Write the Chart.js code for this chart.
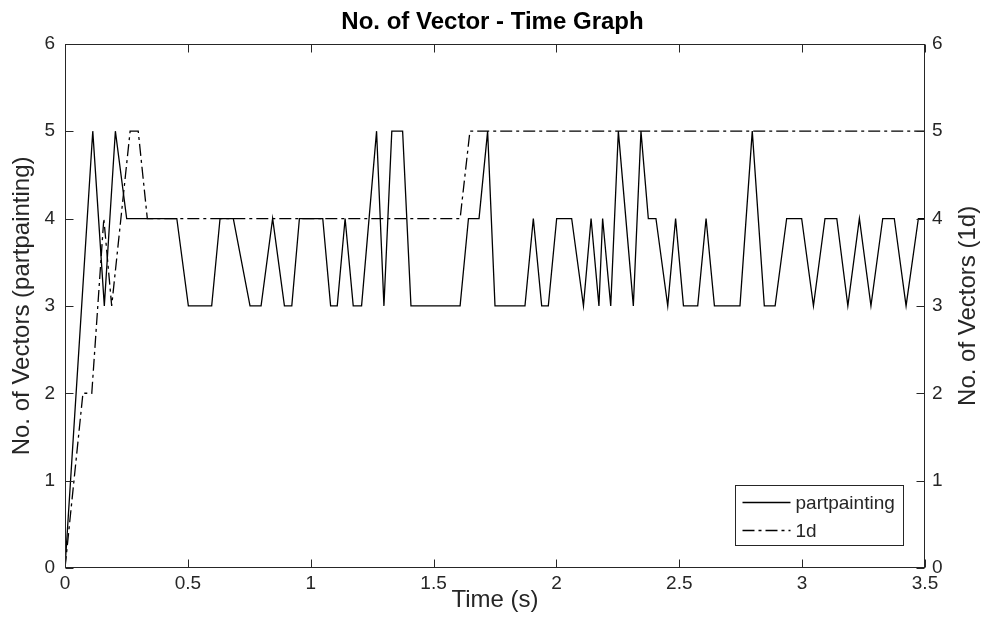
<!DOCTYPE html>
<html>
<head>
<meta charset="utf-8">
<script src="https://cdn.jsdelivr.net/npm/chart.js@4"></script>
<style>
html,body{margin:0;padding:0;background:#fff;}
#wrap{width:985px;height:638px;position:relative;}
</style>
</head>
<body>
<div id="wrap"><canvas id="c" width="985" height="638"></canvas></div>
<script>
// ---- data ----
const partpaintingTimes = [0, 0.113, 0.160, 0.205, 0.251, 0.455, 0.502, 0.597, 0.631, 0.685, 0.753, 0.798, 0.845, 0.893, 0.923, 0.954, 1.049, 1.081, 1.108, 1.140, 1.173, 1.207, 1.268, 1.298, 1.330, 1.374, 1.408, 1.608, 1.642, 1.685, 1.720, 1.750, 1.872, 1.906, 1.940, 1.967, 2.001, 2.062, 2.110, 2.141, 2.173, 2.188, 2.221, 2.252, 2.313, 2.344, 2.374, 2.405, 2.453, 2.485, 2.517, 2.575, 2.609, 2.643, 2.747, 2.797, 2.846, 2.890, 2.937, 2.998, 3.046, 3.093, 3.141, 3.186, 3.233, 3.280, 3.328, 3.375, 3.423, 3.473, 3.5];
const partpaintingValues = [0, 5, 3, 5, 4, 4, 3, 3, 4, 4, 3, 3, 4, 3, 3, 4, 4, 3, 3, 4, 3, 3, 5, 3, 5, 5, 3, 3, 4, 4, 5, 3, 3, 4, 3, 3, 4, 4, 3, 4, 3, 4, 3, 5, 3, 5, 4, 4, 3, 4, 3, 3, 4, 3, 3, 5, 3, 3, 4, 4, 3, 4, 4, 3, 4, 3, 4, 4, 3, 4, 4];
const oneDTimes = [0, 0.073, 0.109, 0.158, 0.190, 0.265, 0.298, 0.335, 1.608, 1.648, 3.5];
const oneDValues = [0, 2, 2, 4, 3, 5, 5, 4, 4, 5, 5];
const xTickValues = [0, 0.5, 1, 1.5, 2, 2.5, 3, 3.5];
const yTickValues = [0, 1, 2, 3, 4, 5, 6];
const seriesLabels = ['partpainting', '1d'];
const chartTitle = 'No. of Vector - Time Graph';
const xTitle = 'Time (s)';
const yLeftTitle = 'No. of Vectors (partpainting)';
const yRightTitle = 'No. of Vectors (1d)';

const zip = (xs, ys) => xs.map((x, i) => ({x: x, y: ys[i]}));
const FONT = "'Liberation Sans', Arial, Helvetica, sans-serif";
const AX = '#262626';
const LABEL_SIZE = 24;
const TICK_SIZE = 19;
const LEGEND_SIZE = 19;

const boxAndTicks = {
  id: 'boxAndTicks',
  afterDraw(chart) {
    const {ctx, chartArea: a, scales} = chart;
    ctx.save();
    ctx.strokeStyle = AX;
    ctx.lineWidth = 1;
    const L = Math.round(a.left) + 0.5, R = Math.round(a.right) - 0.5;
    const T = Math.round(a.top) + 0.5, B = Math.round(a.bottom) - 0.5;
    ctx.strokeRect(L, T, R - L, B - T);
    const tl = 8;
    ctx.beginPath();
    xTickValues.forEach(v => {
      const px = Math.round(scales.x.getPixelForValue(v)) + 0.5;
      ctx.moveTo(px, B); ctx.lineTo(px, B - tl);
      ctx.moveTo(px, T); ctx.lineTo(px, T + tl);
    });
    yTickValues.forEach(v => {
      const py = Math.round(scales.y.getPixelForValue(v)) + 0.5;
      ctx.moveTo(L, py); ctx.lineTo(L + tl, py);
      const py2 = Math.round(scales.y2.getPixelForValue(v)) + 0.5;
      ctx.moveTo(R, py2); ctx.lineTo(R - tl, py2);
    });
    ctx.stroke();

    // right axis title, reading bottom-to-top like the left one
    ctx.save();
    ctx.translate(968, (a.top + a.bottom) / 2);
    ctx.rotate(-Math.PI / 2);
    ctx.fillStyle = AX;
    ctx.font = LABEL_SIZE + 'px ' + FONT;
    ctx.textAlign = 'center';
    ctx.textBaseline = 'middle';
    ctx.fillText(yRightTitle, 0, 0);
    ctx.restore();

    // legend box
    ctx.font = LEGEND_SIZE + 'px ' + FONT;
    const tw = Math.max(...chart.data.datasets.map(d => ctx.measureText(d.label).width));
    const lineStart = 7, lineLen = 48, textGap = 5;
    const bw = Math.round(lineStart + lineLen + textGap + tw + 9);
    const bh = 60;
    const bx = Math.round(a.right - 22 - bw) + 0.5;
    const by = Math.round(a.bottom - 23 - bh) + 0.5;
    ctx.fillStyle = '#fff';
    ctx.fillRect(bx, by, bw, bh);
    ctx.strokeStyle = AX;
    ctx.lineWidth = 1;
    ctx.setLineDash([]);
    ctx.strokeRect(bx, by, bw, bh);
    chart.data.datasets.forEach((d, i) => {
      const cy = by + 17 + i * 28;
      ctx.strokeStyle = d.borderColor;
      ctx.lineWidth = d.borderWidth;
      ctx.setLineDash(d.borderDash || []);
      ctx.beginPath();
      ctx.moveTo(bx + lineStart, cy); ctx.lineTo(bx + lineStart + lineLen, cy);
      ctx.stroke();
      ctx.setLineDash([]);
      ctx.fillStyle = AX;
      ctx.textBaseline = 'middle';
      ctx.textAlign = 'left';
      ctx.fillText(d.label, bx + lineStart + lineLen + textGap, cy + 1);
    });
    ctx.restore();
  }
};

new Chart(document.getElementById('c'), {
  type: 'scatter',
  data: {
    datasets: [
      {label: seriesLabels[0], data: zip(partpaintingTimes, partpaintingValues), showLine: true,
       borderColor: '#000', borderWidth: 1.3, pointRadius: 0, yAxisID: 'y'},
      {label: seriesLabels[1], data: zip(oneDTimes, oneDValues), showLine: true,
       borderColor: '#000', borderWidth: 1.3, borderDash: [12, 4, 3, 4], pointRadius: 0, yAxisID: 'y2'}
    ]
  },
  options: {
    responsive: false,
    animation: false,
    events: [],
    layout: {padding: 0},
    plugins: {
      legend: {display: false},
      tooltip: {enabled: false},
      title: {display: true, text: chartTitle, color: '#000',
        font: {family: FONT, size: LABEL_SIZE, weight: 'bold'}, padding: {top: 8, bottom: 7}}
    },
    scales: {
      x: {
        type: 'linear', min: 0, max: 3.5,
        afterBuildTicks: s => { s.ticks = xTickValues.map(v => ({value: v})); },
        afterFit: s => { s.height = 70; },
        grid: {display: false, drawTicks: false},
        border: {display: false},
        ticks: {color: AX, padding: 4, font: {family: FONT, size: TICK_SIZE}, callback: v => String(v)},
        title: {display: true, text: xTitle, color: AX, padding: {top: 0, bottom: 23}, font: {family: FONT, size: LABEL_SIZE}}
      },
      y: {
        type: 'linear', position: 'left', min: 0, max: 6,
        afterBuildTicks: s => { s.ticks = yTickValues.map(v => ({value: v})); },
        afterFit: s => { s.width = 65; },
        grid: {display: false, drawTicks: false},
        border: {display: false},
        ticks: {color: AX, padding: 10, font: {family: FONT, size: TICK_SIZE}, callback: v => String(v)},
        title: {display: true, text: yLeftTitle, color: AX, padding: {top: 8, bottom: 0}, font: {family: FONT, size: LABEL_SIZE}}
      },
      y2: {
        type: 'linear', position: 'right', min: 0, max: 6,
        afterBuildTicks: s => { s.ticks = yTickValues.map(v => ({value: v})); },
        afterFit: s => { s.width = 60; },
        grid: {display: false, drawTicks: false},
        border: {display: false},
        ticks: {color: AX, padding: 7, font: {family: FONT, size: TICK_SIZE}, callback: v => String(v)},
        title: {display: false}
      }
    }
  },
  plugins: [boxAndTicks]
});
</script>
</body>
</html>
